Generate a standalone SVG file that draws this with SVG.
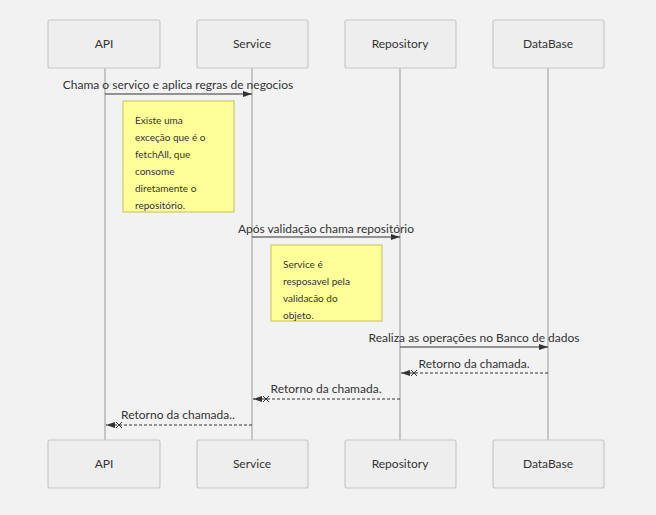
<svg xmlns="http://www.w3.org/2000/svg" width="656" height="515" viewBox="0 0 656 515">
<style>
.bg{fill:#f2f2f2}
.actor rect{fill:#eeeeee;stroke:#c8c8c8;stroke-width:1.2}
.actor text{font-family:Lato,"Open Sans",sans-serif;font-size:12px;fill:#333;text-anchor:middle}
.life{stroke:#999;stroke-width:1}
.msg{stroke:#333;stroke-width:1;fill:none}
.ret{stroke:#333;stroke-width:1;fill:none;stroke-dasharray:3,2}
.lbl{font-family:Lato,"Open Sans",sans-serif;font-size:12px;fill:#333;text-anchor:middle}
.note rect{fill:#ffff99;stroke:#cccc66;stroke-width:1.2}
.note text{font-family:Lato,"Open Sans",sans-serif;font-size:10px;fill:#333}
.x{stroke:#333;stroke-width:1}
</style>
<defs>
<marker id="ah" markerWidth="10" markerHeight="8" refX="9" refY="4" orient="auto" markerUnits="userSpaceOnUse">
<path d="M0,1 L9,4 L0,7 Z" fill="#333"/>
</marker>
</defs>
<rect class="bg" x="0" y="0" width="656" height="515"/>
<g id="lifelines">
<line class="life" x1="105" y1="68" x2="105" y2="440"/>
<line class="life" x1="252" y1="68" x2="252" y2="440"/>
<line class="life" x1="400" y1="68" x2="400" y2="440"/>
<line class="life" x1="548" y1="68" x2="548" y2="440"/>
</g>
<g id="api-top" class="actor"><rect x="48" y="20" width="112" height="48" rx="2"/><text x="104" y="48">API</text></g>
<g id="service-top" class="actor"><rect x="197" y="20" width="111" height="48" rx="2"/><text x="252" y="48">Service</text></g>
<g id="repository-top" class="actor"><rect x="345" y="20" width="111" height="48" rx="2"/><text x="400" y="48">Repository</text></g>
<g id="database-top" class="actor"><rect x="493" y="20" width="111" height="48" rx="2"/><text x="548" y="48">DataBase</text></g>
<g id="api-bottom" class="actor"><rect x="48" y="440" width="112" height="48" rx="2"/><text x="104" y="468">API</text></g>
<g id="service-bottom" class="actor"><rect x="197" y="440" width="111" height="48" rx="2"/><text x="252" y="468">Service</text></g>
<g id="repository-bottom" class="actor"><rect x="345" y="440" width="111" height="48" rx="2"/><text x="400" y="468">Repository</text></g>
<g id="database-bottom" class="actor"><rect x="493" y="440" width="111" height="48" rx="2"/><text x="548" y="468">DataBase</text></g>
<g id="connectors">
<line class="msg" x1="105" y1="94" x2="252" y2="94" marker-end="url(#ah)"/>
<text class="lbl" x="178" y="89">Chama o serviço e aplica regras de negocios</text>
<line class="msg" x1="252" y1="237" x2="400" y2="237" marker-end="url(#ah)"/>
<text class="lbl" x="326" y="233">Após validação chama repositório</text>
<line class="msg" x1="400" y1="347" x2="548" y2="347" marker-end="url(#ah)"/>
<text class="lbl" x="474" y="342">Realiza as operações no Banco de dados</text>
<line class="ret" x1="548" y1="373" x2="401" y2="373" marker-end="url(#ah)"/>
<path class="x" d="M411,370 L417,376 M411,376 L417,370"/>
<text class="lbl" x="474" y="368">Retorno da chamada.</text>
<line class="ret" x1="400" y1="399" x2="253" y2="399" marker-end="url(#ah)"/>
<path class="x" d="M263,396 L269,402 M263,402 L269,396"/>
<text class="lbl" x="326" y="393">Retorno da chamada.</text>
<line class="ret" x1="252" y1="425" x2="106" y2="425" marker-end="url(#ah)"/>
<path class="x" d="M116,422 L122,428 M116,428 L122,422"/>
<text class="lbl" x="178" y="419">Retorno da chamada..</text>
</g>
<g id="note1" class="note">
<rect x="123" y="101" width="111" height="111"/>
<text x="135" y="124">Existe uma</text>
<text x="135" y="141">exceção que é o</text>
<text x="135" y="158">fetchAll, que</text>
<text x="135" y="175">consome</text>
<text x="135" y="192">diretamente o</text>
<text x="135" y="209">repositório.</text>
</g>
<g id="note2" class="note">
<rect x="271" y="245" width="111" height="76"/>
<text x="283" y="268">Service é</text>
<text x="283" y="285">resposavel pela</text>
<text x="283" y="302">validacão do</text>
<text x="283" y="319">objeto.</text>
</g>
</svg>
